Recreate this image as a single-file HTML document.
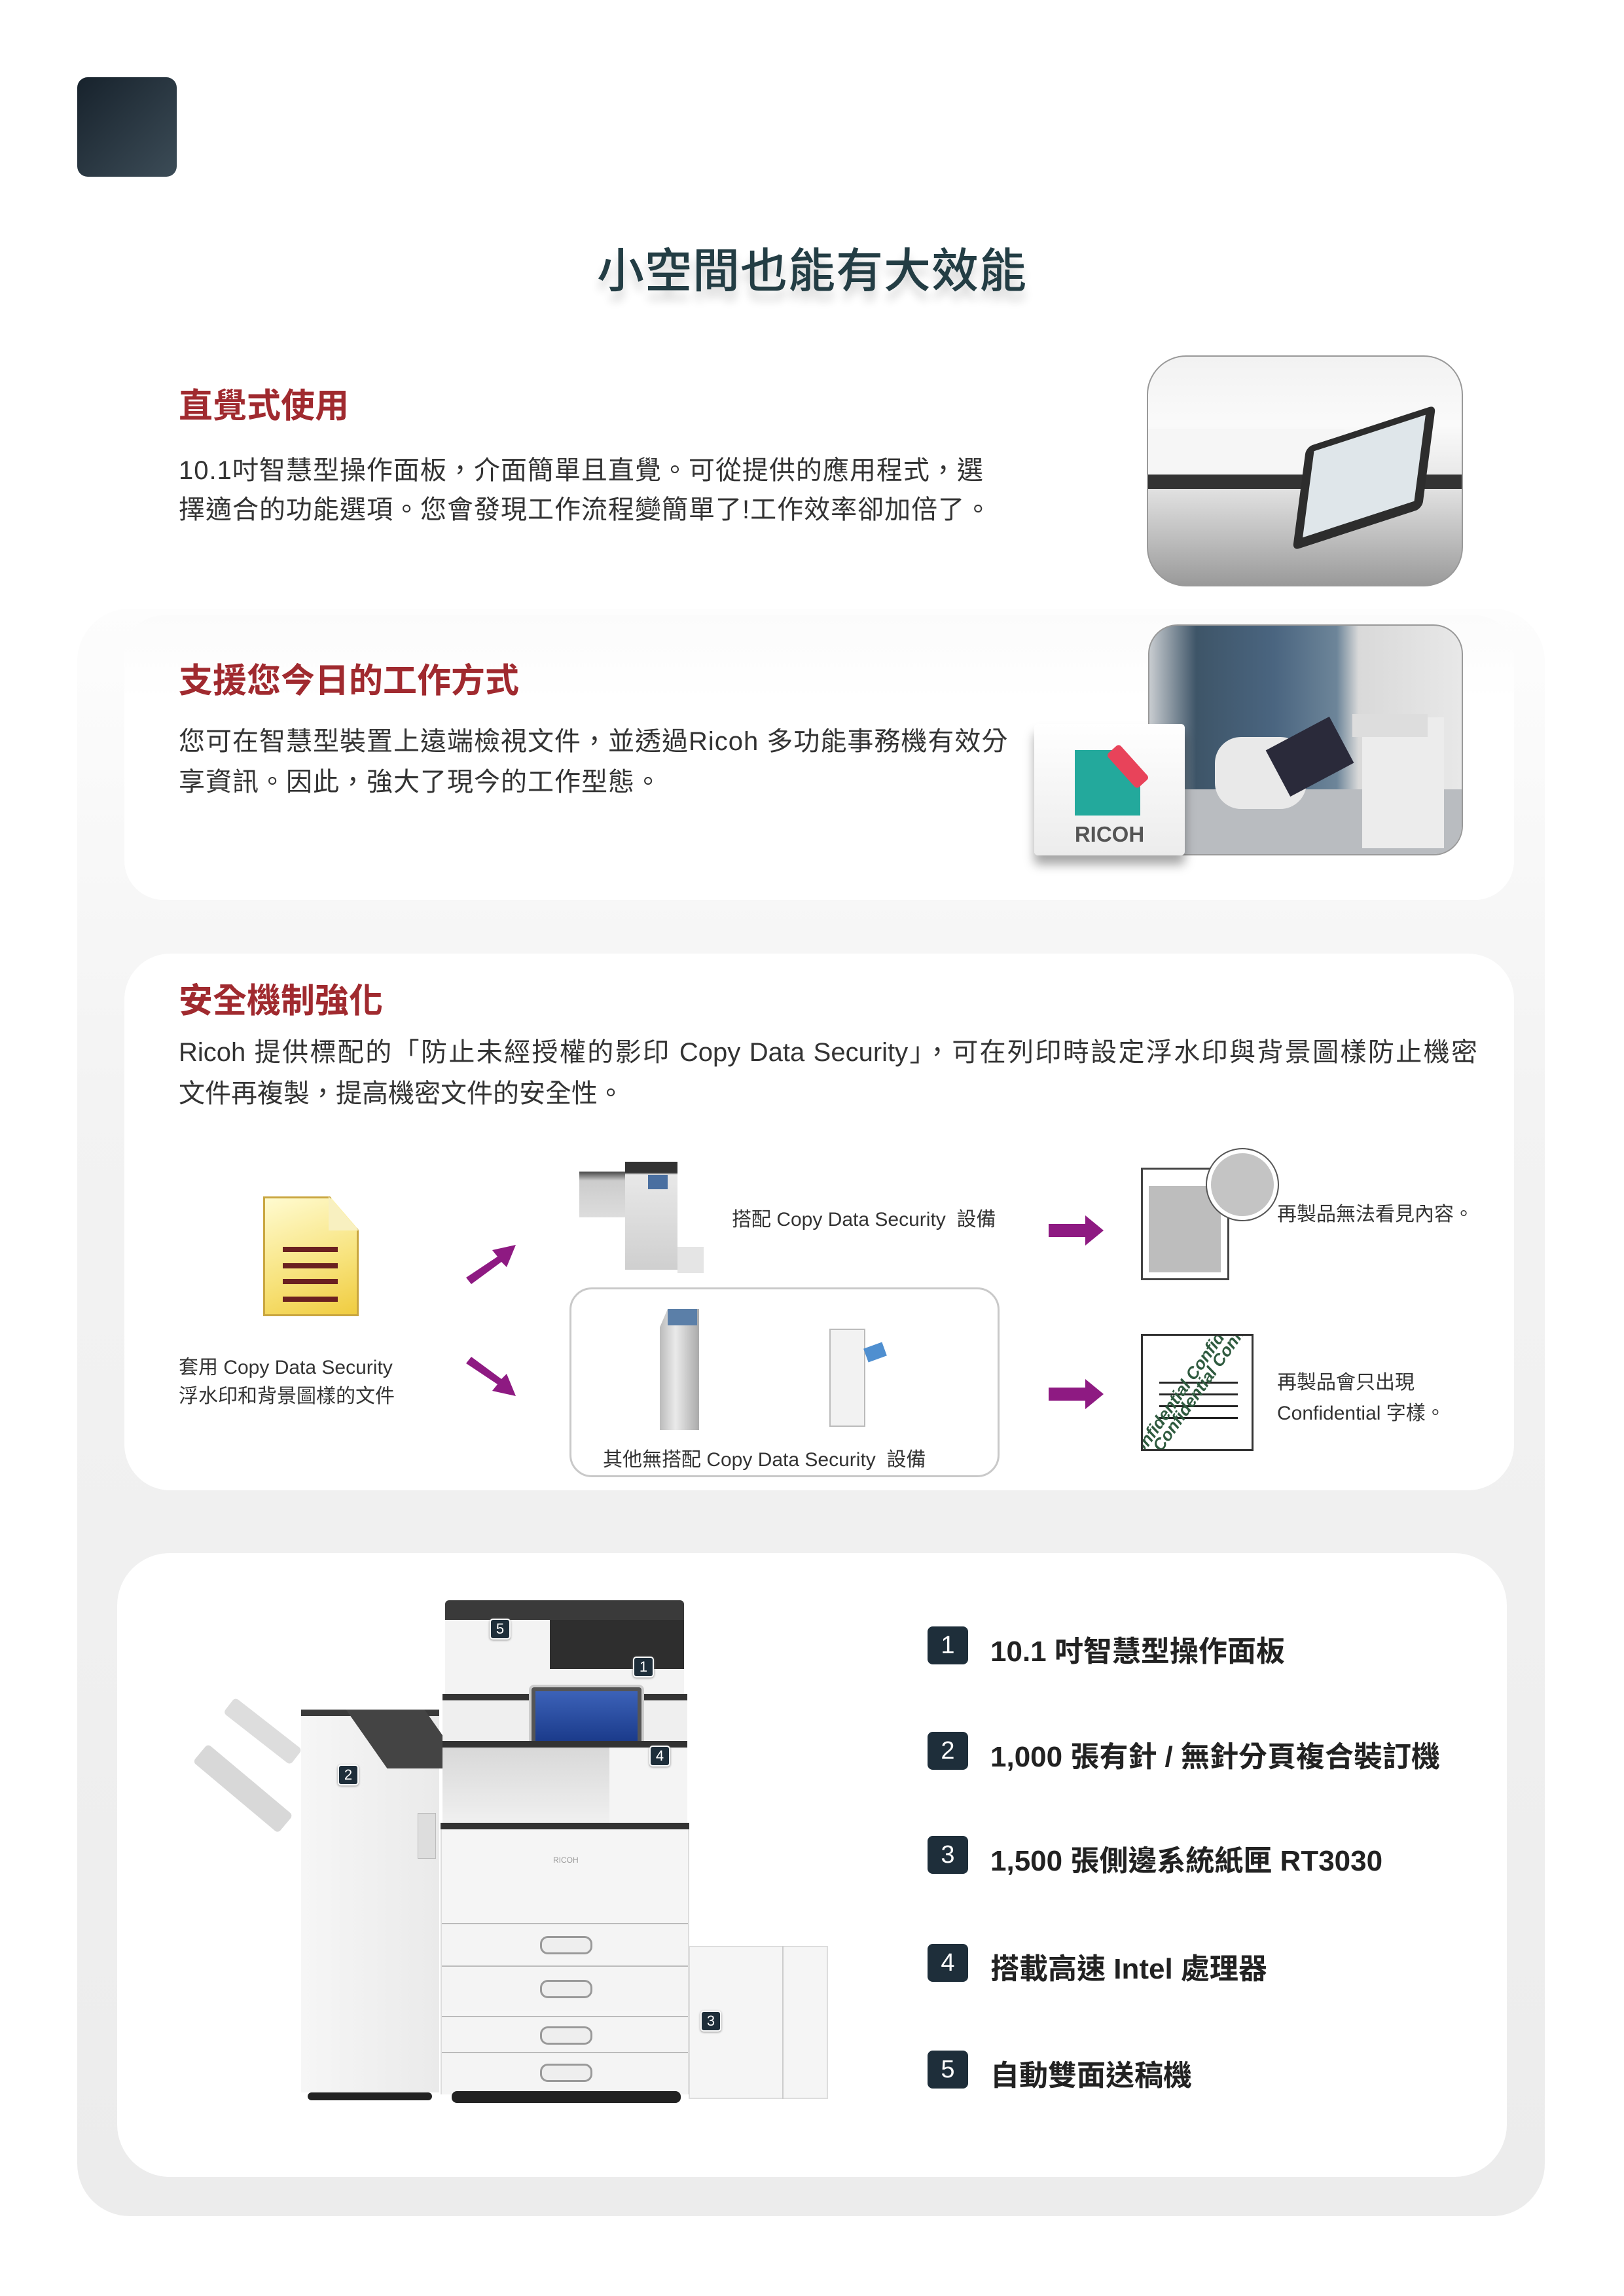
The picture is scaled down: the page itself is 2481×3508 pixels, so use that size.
<!DOCTYPE html>
<html><head><meta charset="utf-8">
<style>
*{margin:0;padding:0;box-sizing:border-box}
body{width:2481px;height:3508px;position:relative;background:#fff;font-family:"Liberation Sans","Noto Sans CJK TC",sans-serif;color:#333;overflow:hidden}
.a{position:absolute}
.h{font-size:52px;font-weight:bold;color:#a02a2f;white-space:nowrap}
.p{font-size:40px;color:#333;white-space:nowrap;letter-spacing:1px}
.s{font-size:30px;color:#333;white-space:nowrap}
.card{background:#fff;border-radius:70px}
.badge{background:#1e2e3a;color:#fff;border-radius:8px;text-align:center;font-size:38px;line-height:58px;width:62px;height:58px}
.item{font-size:44px;font-weight:bold;color:#222;white-space:nowrap}
.sb{background:#1e2e3a;color:#fff;border-radius:5px;border:2px solid #fff;text-align:center;font-size:22px;line-height:28px;width:32px;height:32px;box-shadow:0 1px 3px #888}
.tray{position:absolute;left:0;right:0;border-top:2px solid #bbb;background:#f4f4f4}
.handle{position:absolute;left:150px;width:80px;height:28px;border:3px solid #999;border-radius:12px;background:#eee}
</style></head><body>

<div class="a" style="left:118px;top:118px;width:152px;height:152px;border-radius:16px;background:linear-gradient(135deg,#17222c,#3c4c57)"></div>

<div class="a" style="left:0;width:2481px;top:355px;text-align:center;font-size:72px;font-weight:500;color:#233d44;letter-spacing:1px;text-shadow:0 14px 14px rgba(0,0,0,0.18)">小空間也能有大效能</div>

<!-- big panel -->
<div class="a" style="left:118px;top:930px;width:2242px;height:2456px;border-radius:80px;background:linear-gradient(#fdfdfd,#f3f3f3 30%,#ececec)"></div>

<!-- section 1 -->
<div class="a h" style="left:273px;top:578px">直覺式使用</div>
<div class="a p" style="left:273px;top:686px">10.1吋智慧型操作面板，介面簡單且直覺。可從提供的應用程式，選</div>
<div class="a p" style="left:273px;top:746px">擇適合的功能選項。您會發現工作流程變簡單了!工作效率卻加倍了。</div>
<div class="a" style="left:1752px;top:543px;width:483px;height:353px;border-radius:60px;border:2px solid #999;overflow:hidden;background:linear-gradient(180deg,#f2f2f2 0%,#fafafa 30%,#e6e6e6 55%,#bdbdbd 80%,#9a9a9a 100%)">
 <div class="a" style="left:0;top:180px;width:483px;height:22px;background:#333"></div>
 <div class="a" style="left:0;top:110px;width:300px;height:70px;background:#f6f6f6"></div>
 <div class="a" style="left:230px;top:110px;width:200px;height:150px;background:#2d2d2d;border-radius:10px;transform:skewY(-25deg) rotate(8deg)"></div>
 <div class="a" style="left:244px;top:120px;width:172px;height:125px;background:#dfe6ea;transform:skewY(-25deg) rotate(8deg)"></div>
</div>

<!-- section 2 card -->
<div class="a card" style="left:190px;top:940px;width:2123px;height:435px;background:linear-gradient(#fbfbfb,#fff 30%);border-radius:60px"></div>
<div class="a h" style="left:273px;top:998px">支援您今日的工作方式</div>
<div class="a p" style="left:273px;top:1100px">您可在智慧型裝置上遠端檢視文件，並透過Ricoh 多功能事務機有效分</div>
<div class="a p" style="left:273px;top:1162px">享資訊。因此，強大了現今的工作型態。</div>
<div class="a" style="left:1754px;top:954px;width:481px;height:353px;border-radius:45px;border:2px solid #999;overflow:hidden;background:linear-gradient(90deg,#c8ccd0 0%,#3e5568 15%,#4a6580 40%,#6d8599 60%,#d9d9d9 67%,#e8e8e8 100%)">
 <div class="a" style="left:0;top:250px;width:481px;height:103px;background:#b9bcc0"></div>
 <div class="a" style="left:325px;top:140px;width:125px;height:200px;background:#ececec"></div>
 <div class="a" style="left:310px;top:135px;width:115px;height:35px;background:#ddd"></div>
 <div class="a" style="left:100px;top:170px;width:140px;height:110px;background:#e9e9e9;border-radius:40px"></div>
 <div class="a" style="left:190px;top:160px;width:110px;height:80px;background:#2a2a3a;transform:rotate(-28deg)"></div>
</div>
<div class="a" style="left:1580px;top:1106px;width:230px;height:201px;background:linear-gradient(#fff,#ececec);border-radius:6px;box-shadow:0 14px 16px rgba(0,0,0,0.35)">
 <div class="a" style="left:62px;top:40px;width:100px;height:100px;background:#23a99c;clip-path:polygon(0 0,60% 0,100% 45%,100% 100%,0 100%)"></div>
 <div class="a" style="left:130px;top:30px;width:26px;height:70px;background:#e8435a;border-radius:5px;transform:rotate(-42deg)"></div>
 <div class="a" style="left:0;width:230px;top:150px;text-align:center;font-size:33px;font-weight:bold;color:#555">RICOH</div>
</div>

<!-- section 3 card -->
<div class="a card" style="left:190px;top:1457px;width:2123px;height:820px"></div>
<div class="a h" style="left:273px;top:1487px">安全機制強化</div>
<div class="a p" style="left:273px;top:1575px;width:1984px;text-align:justify;text-align-last:justify;letter-spacing:0">Ricoh 提供標配的「防止未經授權的影印 Copy Data Security」，可在列印時設定浮水印與背景圖樣防止機密</div>
<div class="a p" style="left:273px;top:1638px;letter-spacing:0">文件再複製，提高機密文件的安全性。</div>

<!-- doc icon -->
<div class="a" style="left:402px;top:1828px;width:146px;height:183px;background:linear-gradient(160deg,#fffbd0,#f7e27a 60%,#f0cc40);border:3px solid #c9a640;clip-path:polygon(0 0,70% 0,100% 28%,100% 100%,0 100%);box-shadow:0 20px 20px rgba(0,0,0,.2)"></div>
<div class="a" style="left:502px;top:1828px;width:46px;height:52px;background:#f8f0c0;clip-path:polygon(0 0,100% 100%,0 100%)"></div>
<div class="a" style="left:432px;top:1905px;width:84px;height:8px;background:#6a2020;box-shadow:0 25px 0 #6a2020,0 49px 0 #6a2020,0 76px 0 #6a2020"></div>
<div class="a s" style="left:273px;top:2064px">套用 Copy Data Security</div>
<div class="a s" style="left:273px;top:2108px">浮水印和背景圖樣的文件</div>

<!-- purple arrows -->
<svg class="a" style="left:700px;top:1890px" width="100" height="80"><polygon points="12,62 60,30 52,20 88,12 74,46 66,38 20,72" fill="#8e1a82"/></svg>
<svg class="a" style="left:700px;top:2065px" width="100" height="80"><polygon points="12,18 60,50 52,60 88,68 74,34 66,42 20,8" fill="#8e1a82"/></svg>
<svg class="a" style="left:1600px;top:1855px" width="90" height="50"><polygon points="2,15 58,15 58,2 86,25 58,48 58,35 2,35" fill="#8e1a82"/></svg>
<svg class="a" style="left:1600px;top:2105px" width="90" height="50"><polygon points="2,15 58,15 58,2 86,25 58,48 58,35 2,35" fill="#8e1a82"/></svg>

<!-- printer top -->
<div class="a" style="left:885px;top:1790px;width:70px;height:70px;background:linear-gradient(#444,#ccc 20%,#ddd);"></div>
<div class="a" style="left:955px;top:1775px;width:80px;height:165px;background:linear-gradient(#333 0,#333 10%,#e8e8e8 12%,#cfcfcf)"></div>
<div class="a" style="left:990px;top:1795px;width:30px;height:22px;background:#4a6fa0"></div>
<div class="a" style="left:1035px;top:1905px;width:40px;height:40px;background:#e5e5e5"></div>
<div class="a s" style="left:1118px;top:1838px">搭配 Copy Data Security&nbsp; 設備</div>

<!-- box other -->
<div class="a" style="left:870px;top:1967px;width:657px;height:290px;border:3px solid #c9c9c9;border-radius:34px;background:#fff"></div>
<div class="a" style="left:1008px;top:2000px;width:60px;height:185px;background:linear-gradient(90deg,#bbb,#eaeaea 40%,#aaa);clip-path:polygon(20% 0,100% 0,100% 100%,0 100%,0 15%)"></div>
<div class="a" style="left:1020px;top:2000px;width:45px;height:25px;background:#5b7fa8"></div>
<div class="a" style="left:1267px;top:2030px;width:55px;height:150px;background:#f2f2f2;border:2px solid #bbb"></div>
<div class="a" style="left:1322px;top:2055px;width:30px;height:22px;background:#4f8fd0;transform:rotate(-20deg)"></div>
<div class="a s" style="left:921px;top:2205px">其他無搭配 Copy Data Security&nbsp; 設備</div>

<!-- result docs -->
<div class="a" style="left:1743px;top:1784px;width:135px;height:172px;background:#fff;border:3px solid #444"></div>
<div class="a" style="left:1755px;top:1812px;width:110px;height:132px;background:#bdbdbd"></div>
<div class="a" style="left:1842px;top:1754px;width:112px;height:112px;border-radius:50%;background:#fff;border:2px solid #555"></div>
<div class="a" style="left:1850px;top:1762px;width:96px;height:96px;border-radius:50%;background:#c4c4c4"></div>
<div class="a s" style="left:1951px;top:1830px">再製品無法看見內容。</div>

<div class="a" style="left:1743px;top:2038px;width:172px;height:179px;background:#fff;border:3px solid #333;overflow:hidden">
 <div class="a" style="left:25px;top:70px;width:120px;height:3px;background:#222;box-shadow:0 18px 0 #222,0 36px 0 #222,0 54px 0 #222"></div>
 <div class="a" style="left:-30px;top:60px;width:240px;font-size:26px;font-style:italic;font-weight:bold;color:#2e5a3e;transform:rotate(-55deg);white-space:nowrap">Confidential Confidential</div>
 <div class="a" style="left:-70px;top:80px;width:240px;font-size:26px;font-style:italic;font-weight:bold;color:#2e5a3e;transform:rotate(-55deg);white-space:nowrap">Confidential Confidential</div>
</div>
<div class="a s" style="left:1951px;top:2087px">再製品會只出現</div>
<div class="a s" style="left:1951px;top:2134px">Confidential 字樣。</div>

<!-- bottom card -->
<div class="a card" style="left:179px;top:2373px;width:2123px;height:953px;border-radius:80px"></div>

<!-- printer illustration -->
<div class="a" style="left:306px;top:2660px;width:170px;height:36px;background:#d8d8d8;transform:rotate(40deg);transform-origin:left;border-radius:6px"></div>
<div class="a" style="left:350px;top:2590px;width:130px;height:30px;background:#ddd;transform:rotate(38deg);transform-origin:left;border-radius:6px"></div>
<div class="a" style="left:460px;top:2612px;width:211px;height:585px;background:linear-gradient(90deg,#f6f6f6,#eaeaea);border-top:10px solid #3a3a3a"></div>
<div class="a" style="left:560px;top:2612px;width:120px;height:90px;background:#444;transform:skewX(35deg)"></div>
<div class="a" style="left:638px;top:2770px;width:28px;height:70px;background:#ddd;border:1px solid #bbb"></div>
<div class="a" style="left:680px;top:2445px;width:365px;height:30px;background:#3a3a3a;border-radius:6px 6px 0 0"></div>
<div class="a" style="left:680px;top:2475px;width:365px;height:115px;background:#f3f3f3"></div>
<div class="a" style="left:840px;top:2475px;width:205px;height:75px;background:#2e2e2e"></div>
<div class="a" style="left:676px;top:2588px;width:374px;height:10px;background:#333"></div>
<div class="a" style="left:676px;top:2598px;width:374px;height:62px;background:#efefef"></div>
<div class="a" style="left:808px;top:2574px;width:176px;height:102px;background:#555;border-radius:8px;border:4px solid #ccc"></div>
<div class="a" style="left:818px;top:2584px;width:156px;height:78px;background:linear-gradient(#3c62b8,#1a3a8a)"></div>
<div class="a" style="left:676px;top:2660px;width:374px;height:10px;background:#333"></div>
<div class="a" style="left:676px;top:2670px;width:255px;height:115px;background:linear-gradient(#d8d8d8,#f0f0f0)"></div>
<div class="a" style="left:931px;top:2670px;width:119px;height:115px;background:#f4f4f4"></div>
<div class="a" style="left:673px;top:2785px;width:380px;height:10px;background:#333"></div>
<div class="a" style="left:673px;top:2795px;width:380px;height:405px;background:#f5f5f5;border-left:2px solid #ddd;border-right:2px solid #ddd">
 <div class="a" style="left:170px;top:40px;font-size:12px;color:#999">RICOH</div>
 <div class="tray" style="top:143px;height:65px"><div class="handle" style="top:18px"></div></div>
 <div class="tray" style="top:208px;height:70px"><div class="handle" style="top:20px"></div></div>
 <div class="tray" style="top:285px;height:55px"><div class="handle" style="top:14px"></div></div>
 <div class="tray" style="top:340px;height:65px"><div class="handle" style="top:16px"></div></div>
</div>
<div class="a" style="left:1052px;top:2973px;width:213px;height:234px;background:#f5f5f5;border:2px solid #ddd"></div>
<div class="a" style="left:1195px;top:2973px;width:2px;height:234px;background:#ccc"></div>
<div class="a" style="left:690px;top:3195px;width:350px;height:18px;background:#222;border-radius:8px"></div>
<div class="a" style="left:470px;top:3197px;width:190px;height:12px;background:#222;border-radius:6px"></div>
<div class="a sb" style="left:748px;top:2473px">5</div>
<div class="a sb" style="left:967px;top:2531px">1</div>
<div class="a sb" style="left:992px;top:2667px">4</div>
<div class="a sb" style="left:516px;top:2696px">2</div>
<div class="a sb" style="left:1070px;top:3072px">3</div>

<!-- list -->
<div class="a badge" style="left:1417px;top:2485px">1</div><div class="a item" style="left:1513px;top:2487px">10.1 吋智慧型操作面板</div>
<div class="a badge" style="left:1417px;top:2646px">2</div><div class="a item" style="left:1513px;top:2648px">1,000 張有針 / 無針分頁複合裝訂機</div>
<div class="a badge" style="left:1417px;top:2805px">3</div><div class="a item" style="left:1513px;top:2807px">1,500 張側邊系統紙匣 RT3030</div>
<div class="a badge" style="left:1417px;top:2970px">4</div><div class="a item" style="left:1513px;top:2972px">搭載高速 Intel 處理器</div>
<div class="a badge" style="left:1417px;top:3133px">5</div><div class="a item" style="left:1513px;top:3135px">自動雙面送稿機</div>

</body></html>
